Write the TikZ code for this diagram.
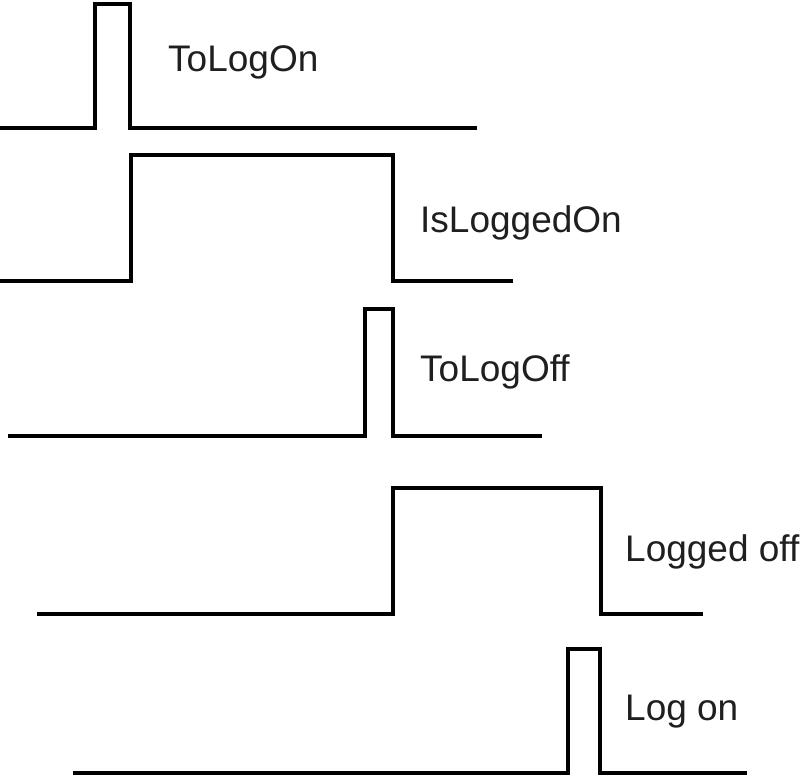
\documentclass[tikz,border=0pt]{standalone}
\usepackage{fontspec}
\setmainfont{Liberation Sans}
\begin{document}
\begin{tikzpicture}[x=1pt,y=-1pt,
  wave/.style={line width=4pt,line join=miter},
  every node/.style={font=\fontsize{37}{41}\selectfont,anchor=base west,inner sep=0pt,text=black!88}]
\useasboundingbox (0,0) rectangle (802,776);
% ToLogOn pulse
\draw[wave] (0,128) -- (95,128) -- (95,4) -- (130,4) -- (130,128) -- (477,128);
\node (tologon) at (168,71) {ToLogOn};
% IsLoggedOn level
\draw[wave] (0,281) -- (131,281) -- (131,155) -- (393,155) -- (393,281) -- (513,281);
\node (isloggedon) at (420,232) {IsLoggedOn};
% ToLogOff pulse
\draw[wave] (8,436) -- (365,436) -- (365,309) -- (393,309) -- (393,436) -- (542,436);
\node (tologoff) at (420,381) {ToLogOff};
% Logged off level
\draw[wave] (37,614) -- (393,614) -- (393,488) -- (601,488) -- (601,614) -- (703,614);
\node (loggedoff) at (625,561) {Logged off};
% Log on pulse
\draw[wave] (73,773) -- (568,773) -- (568,649) -- (600,649) -- (600,773) -- (747,773);
\node (logon) at (625,720) {Log on};
\end{tikzpicture}
\end{document}
